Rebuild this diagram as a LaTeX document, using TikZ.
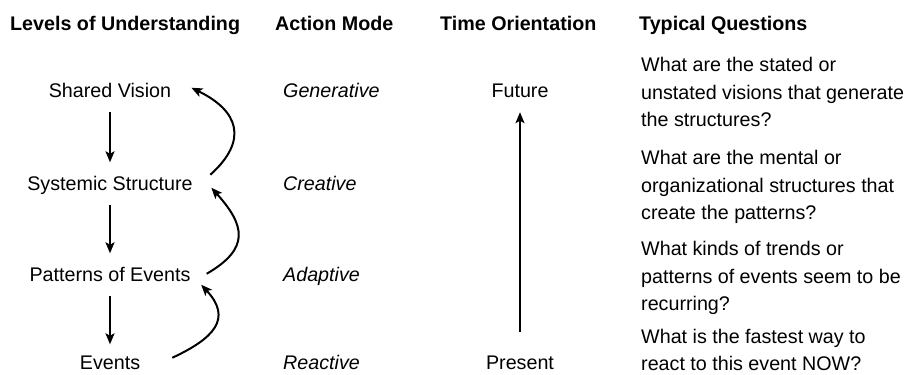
\documentclass[tikz,border=0pt]{standalone}
\usepackage{fontspec}
\setmainfont{Liberation Sans}
\usetikzlibrary{arrows.meta}

\begin{document}
\begin{tikzpicture}[
    x=1pt, y=1pt,
    head/.style={anchor=base west, inner sep=0pt,
        font=\fontsize{19.7}{27.5}\selectfont\bfseries},
    level/.style={anchor=base, inner sep=0pt, text height=14.5pt, text depth=0pt,
        font=\fontsize{19.7}{27.5}\selectfont},
    mode/.style={level, anchor=base west, font=\fontsize{19.7}{27.5}\selectfont\itshape},
    question/.style={anchor=north west, inner sep=0pt, align=left,
        font=\fontsize{19.7}{27.5}\selectfont},
    down/.style={line width=1.8pt, -{Stealth[length=11pt, width=9pt, inset=2.5pt]},
        shorten <=15pt, shorten >=13pt},
    back/.style={line width=2pt, -{Stealth[length=11pt, width=9pt, inset=2.5pt]}}
]
    \useasboundingbox (0,0) rectangle (911,-375);
    \node[head] (hlevel) at (10,-30) {Levels of Understanding};
    \node[head] (hmode) at (275,-30) {Action Mode};
    \node[head] (htime) at (440,-30) {Time Orientation};
    \node[head] (hquest) at (639,-30) {Typical Questions};
    \node[level] (vision) at (110,-97) {Shared Vision};
    \node[level] (structure) at (110,-190) {Systemic Structure};
    \node[level] (patterns) at (110,-281) {Patterns of Events};
    \node[level] (events) at (110,-369) {Events};
    \node[mode] (generative) at (283,-97) {Generative};
    \node[mode] (creative) at (283,-190) {Creative};
    \node[mode] (adaptive) at (283,-281) {Adaptive};
    \node[mode] (reactive) at (283,-369) {Reactive};
    \node[level] (future) at (520,-97) {Future};
    \node[level] (present) at (520,-369) {Present};
    \node[question] (q1) at (641,-57.5) {What are the stated or\\unstated visions that generate\\the structures?};
    \node[question] (q2) at (641,-150.5) {What are the mental or\\organizational structures that\\create the patterns?};
    \node[question] (q3) at (641,-241.5) {What kinds of trends or\\patterns of events seem to be\\recurring?};
    \node[question] (q4) at (641,-329) {What is the fastest way to\\react to this event NOW?};
    \draw[down] (vision) -- (structure);
    \draw[down] (structure) -- (patterns);
    \draw[down, shorten >=10pt] (patterns) -- (events);
    \draw[down, shorten <=22pt, shorten >=15pt] (present) -- (future);
    \draw[back] ([xshift=32pt, yshift=4pt]events.east) to[out=25, in=-47, looseness=1.5]
        ([xshift=10.5pt, yshift=-11pt]patterns.east);
    \draw[back] ([xshift=16pt]patterns.east) to[out=30, in=-48, looseness=1.5]
        ([xshift=18.5pt, yshift=-5pt]structure.east);
    \draw[back] ([xshift=17.5pt, yshift=8pt]structure.east) to[out=42, in=-26, looseness=1.5]
        ([xshift=20pt, yshift=2pt]vision.east);
\end{tikzpicture}
\end{document}
